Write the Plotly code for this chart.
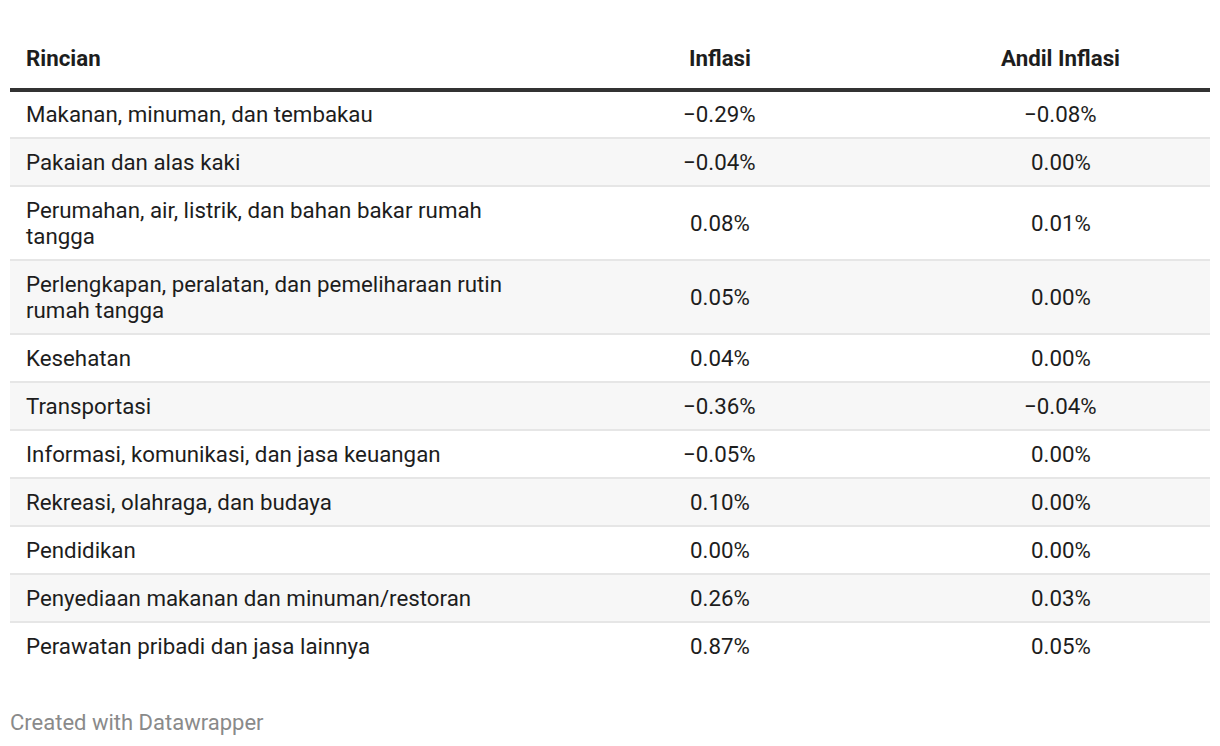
import plotly.graph_objects as go

# ---- data ----
header = ["Rincian", "Inflasi", "Andil Inflasi"]
categories = [
    "Makanan, minuman, dan tembakau",
    "Pakaian dan alas kaki",
    "Perumahan, air, listrik, dan bahan bakar rumah<br>tangga",
    "Perlengkapan, peralatan, dan pemeliharaan rutin<br>rumah tangga",
    "Kesehatan",
    "Transportasi",
    "Informasi, komunikasi, dan jasa keuangan",
    "Rekreasi, olahraga, dan budaya",
    "Pendidikan",
    "Penyediaan makanan dan minuman/restoran",
    "Perawatan pribadi dan jasa lainnya",
]
inflasi = [-0.29, -0.04, 0.08, 0.05, 0.04, -0.36, -0.05, 0.10, 0.00, 0.26, 0.87]
andil = [-0.08, 0.00, 0.01, 0.00, 0.00, -0.04, 0.00, 0.00, 0.00, 0.03, 0.05]
footer = "Created with Datawrapper"

# page has an 8px body margin; figure sized to fit window exactly
OFF = 8
W, H = 1220 - 2 * OFF, 746 - 2 * OFF
FONT = "Roboto, 'Noto Sans', sans-serif"
TEXT = "#1d1d1d"
FS = 22.3


def fmt(v):
    s = f"{abs(v):.2f}%"
    return ("\u2212" + s) if v < 0 else s


def P(v):
    # page pixel -> figure coordinate
    return v - OFF


fig = go.Figure()
shapes = []
annotations = []

X0, X1 = P(10), P(1210)
TEXT_X = P(24)
COL2_X, COL3_X = P(719.5), P(1060.5)
HEADER_Y = P(58)
LINE_Y = P(90)
BASE_H, LINE_H = 48, 26

# header
for txt, x, anc in zip(header, [TEXT_X, COL2_X, COL3_X], ["left", "center", "center"]):
    annotations.append(dict(x=x, y=HEADER_Y, text=f"<b>{txt}</b>", xanchor=anc, yanchor="middle",
                            showarrow=False, font=dict(family=FONT, size=FS, color=TEXT)))
shapes.append(dict(type="line", x0=X0, x1=X1, y0=LINE_Y, y1=LINE_Y,
                   line=dict(color="#333333", width=4)))

top = LINE_Y
n = len(categories)
for i, (cat, a, b) in enumerate(zip(categories, inflasi, andil)):
    lines = cat.split("<br>")
    h = BASE_H + LINE_H * (len(lines) - 1)
    bottom = top + h
    if i % 2 == 1:
        shapes.append(dict(type="rect", x0=X0, x1=X1, y0=top + 1, y1=bottom,
                           fillcolor="#f7f7f7", line=dict(width=0), layer="below"))
    if i < n - 1:
        shapes.append(dict(type="line", x0=X0, x1=X1, y0=bottom, y1=bottom,
                           line=dict(color="#e6e6e6", width=2)))
    cy = (top + bottom) / 2
    y_first = cy - LINE_H * (len(lines) - 1) / 2
    for k, ln in enumerate(lines):
        annotations.append(dict(x=TEXT_X, y=y_first + k * LINE_H, text=ln, xanchor="left",
                                yanchor="middle", align="left", showarrow=False,
                                font=dict(family=FONT, size=FS, color=TEXT)))
    annotations.append(dict(x=COL2_X, y=cy, text=fmt(a), xanchor="center", yanchor="middle",
                            showarrow=False, font=dict(family=FONT, size=FS, color=TEXT)))
    annotations.append(dict(x=COL3_X, y=cy, text=fmt(b), xanchor="center", yanchor="middle",
                            showarrow=False, font=dict(family=FONT, size=FS, color=TEXT)))
    top = bottom

annotations.append(dict(x=P(8), y=P(722), text=footer, xanchor="left", yanchor="middle",
                        showarrow=False, font=dict(family=FONT, size=22, color="#8a8a8a")))

fig.add_trace(go.Scatter(x=[0, W], y=[0, H], mode="markers", marker=dict(opacity=0),
                         hoverinfo="skip", showlegend=False))

fig.update_layout(
    width=W, height=H,
    margin=dict(l=0, r=0, t=0, b=0),
    paper_bgcolor="white", plot_bgcolor="white",
    xaxis=dict(range=[0, W], visible=False, fixedrange=True),
    yaxis=dict(range=[H, 0], visible=False, fixedrange=True),
    shapes=shapes, annotations=annotations,
    showlegend=False,
)

fig.write_html("out.html", config={"displayModeBar": False})
